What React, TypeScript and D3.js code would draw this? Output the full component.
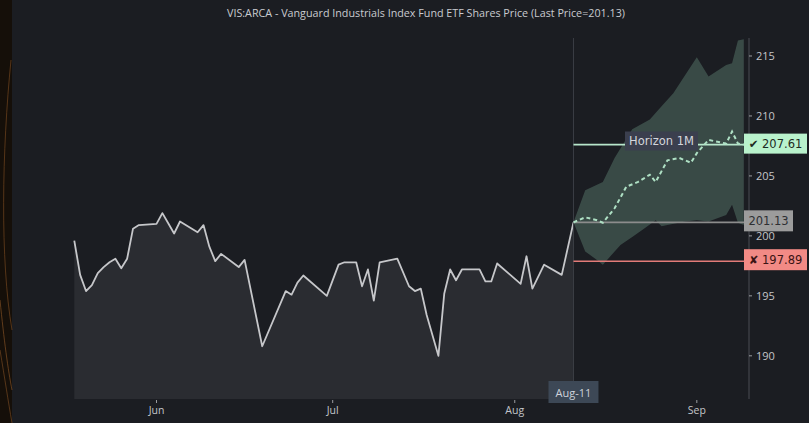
import React from "react";
import * as d3 from "d3";

const title = "VIS:ARCA - Vanguard Industrials Index Fund ETF Shares Price (Last Price=201.13)";

const priceDates = [
  "2023-05-18","2023-05-19","2023-05-20","2023-05-21","2023-05-22","2023-05-23","2023-05-24","2023-05-25",
  "2023-05-26","2023-05-27","2023-05-28","2023-05-29","2023-06-01","2023-06-02","2023-06-03","2023-06-04",
  "2023-06-05","2023-06-08","2023-06-09","2023-06-10","2023-06-11","2023-06-12","2023-06-15","2023-06-16",
  "2023-06-19","2023-06-23","2023-06-24","2023-06-25","2023-06-26","2023-06-30","2023-07-02","2023-07-03",
  "2023-07-05","2023-07-06","2023-07-07","2023-07-08","2023-07-09","2023-07-12","2023-07-14","2023-07-15",
  "2023-07-16","2023-07-17","2023-07-19","2023-07-20","2023-07-21","2023-07-22","2023-07-23","2023-07-26",
  "2023-07-27","2023-07-28","2023-07-29","2023-08-02","2023-08-03","2023-08-04","2023-08-06","2023-08-09",
  "2023-08-11",
];
const priceValues = [
  199.6, 196.75, 195.4, 195.9, 196.9, 197.4, 197.8, 198.1,
  197.3, 198.1, 200.6, 200.9, 201.0, 201.9, 201.05, 200.2,
  201.2, 200.3, 200.9, 199.1, 197.9, 198.5, 197.4, 198.0,
  190.8, 195.4, 195.1, 196.1, 196.7, 195.0, 197.6, 197.8,
  197.8, 195.8, 197.2, 194.6, 197.8, 198.1, 195.8, 195.4,
  195.6, 193.4, 190.0, 195.2, 197.2, 196.3, 197.2, 197.2,
  196.2, 196.2, 197.7, 196.0, 198.3, 195.6, 197.6, 196.75,
  201.13,
];

const medianDates = [
  "2023-08-11","2023-08-13","2023-08-15","2023-08-16","2023-08-18","2023-08-20","2023-08-22","2023-08-24",
  "2023-08-25","2023-08-27","2023-08-29","2023-08-31","2023-09-01","2023-09-03","2023-09-06","2023-09-07",
  "2023-09-08","2023-09-09",
];
const medianValues = [
  201.13, 201.55, 201.3, 201.1, 202.3, 204.1, 204.5, 205.1,
  204.5, 206.3, 206.5, 206.1, 206.9, 208.0, 207.7, 208.7,
  207.7, 207.6,
];

const upperDates = [
  "2023-08-11","2023-08-13","2023-08-16","2023-08-18","2023-08-21","2023-08-24","2023-08-26","2023-08-28",
  "2023-09-01","2023-09-03","2023-09-06","2023-09-07","2023-09-08","2023-09-09",
];
const upperValues = [
  201.13, 203.8, 204.5, 206.5, 208.9, 209.7, 210.8, 211.9,
  214.9, 213.3, 214.25, 214.4, 216.3, 216.4,
];

const lowerDates = [
  "2023-08-11","2023-08-13","2023-08-15","2023-08-16","2023-08-19","2023-08-21","2023-08-23","2023-08-25",
  "2023-08-26","2023-08-27","2023-08-30","2023-09-01","2023-09-03","2023-09-06","2023-09-07","2023-09-08",
  "2023-09-09",
];
const lowerValues = [
  201.13, 198.7, 198.0, 197.6, 199.25, 199.9, 200.6, 201.3,
  200.8, 200.9, 201.2, 201.3, 201.2, 201.75, 202.6, 201.1,
  200.9,
];

const lastPrice = 201.13;
const targetPrice = 207.61;
const stopPrice = 197.89;
const horizonLabel = "Horizon 1M";
const lastDateLabel = "Aug-11";
const lastDate = "2023-08-11";

const yTicks = [190, 195, 200, 205, 210, 215];
const xTickDates = ["2023-06-01", "2023-07-01", "2023-08-01", "2023-09-01"];
const xTickLabels = ["Jun", "Jul", "Aug", "Sep"];

const parse = d3.timeParse("%Y-%m-%d");

export default function App() {
  const W = 809, H = 423;
  const x = d3.scaleTime()
    .domain([parse("2023-06-01")!, parse("2023-09-01")!])
    .range([156.5, 156.5 + 92 * 5.873]);
  const y = d3.scaleLinear().domain([186.4, 216.5]).range([399, 38]);
  const axisX = 749;
  const bottom = 399;

  const price = priceDates.map((d, i) => ({ d: parse(d)!, v: priceValues[i] }));
  const median = medianDates.map((d, i) => ({ d: parse(d)!, v: medianValues[i] }));
  const upper = upperDates.map((d, i) => ({ d: parse(d)!, v: upperValues[i] }));
  const lower = lowerDates.map((d, i) => ({ d: parse(d)!, v: lowerValues[i] }));

  const area = d3.area<{ d: Date; v: number }>().x(p => x(p.d)).y0(bottom).y1(p => y(p.v));
  const line = d3.line<{ d: Date; v: number }>().x(p => x(p.d)).y(p => y(p.v));
  const bandPath = line([...upper, ...lower.slice().reverse()]) + "Z";

  const xLast = x(parse(lastDate)!);

  const labelFont = "'DejaVu Sans', sans-serif";
  const axisFont = "'Open Sans', 'DejaVu Sans', sans-serif";

  return (
    <div style={{ position: "fixed", left: 0, top: 0, width: W, height: H }}>
      <svg width={W} height={H} style={{ display: "block" }}>
        <rect x={0} y={0} width={W} height={H} fill="#1b1d22" />
        {/* left decorative strip */}
        <rect x={0} y={0} width={12} height={H} fill="#150f09" />
        <path d="M11,60 C2,150 0,260 12,330" stroke="#7a4a20" strokeWidth={0.8} fill="none" opacity={0.8} />
        <path d="M0,300 C4,340 8,370 12,390" stroke="#8a5526" strokeWidth={0.8} fill="none" opacity={0.8} />
        <path d="M0,350 C5,380 8,400 12,423" stroke="#8a5526" strokeWidth={0.8} fill="none" opacity={0.7} />

        <text x={426} y={17} textAnchor="middle" fill="#c9cbd0" fontSize={10}
          fontFamily={axisFont} textLength={398} lengthAdjust="spacingAndGlyphs">{title}</text>

        {/* price area and line */}
        <path d={area(price)!} fill="#2a2c31" />
        <path d={line(price)!} fill="none" stroke="#c6c7ca" strokeWidth={1.8} strokeLinejoin="round" />

        {/* last date vertical */}
        <line x1={xLast} x2={xLast} y1={38} y2={bottom} stroke="#3b3e44" strokeWidth={1} />

        {/* forecast band */}
        <path d={bandPath} fill="#6f9a88" fillOpacity={0.36} />

        {/* horizontal reference lines */}
        <line x1={xLast} x2={axisX} y1={y(lastPrice)} y2={y(lastPrice)} stroke="#8c8c8c" strokeWidth={1.6} />
        <line x1={xLast} x2={axisX} y1={y(stopPrice)} y2={y(stopPrice)} stroke="#e27b78" strokeWidth={1.6} />
        <line x1={xLast} x2={axisX} y1={y(targetPrice)} y2={y(targetPrice)} stroke="#b7e6cb" strokeWidth={1.6} />

        {/* median dashed */}
        <path d={line(median)!} fill="none" stroke="#aee0c4" strokeWidth={2} strokeDasharray="4,3" />

        {/* horizon label */}
        <rect x={625} y={131.5} width={73} height={19} fill="#3b3f4e" />
        <text x={661.5} y={141} textAnchor="middle" dominantBaseline="central" fill="#d4d6dc"
          fontSize={11.5} fontFamily={labelFont}>{horizonLabel}</text>

        {/* right axis */}
        <line x1={axisX} x2={axisX} y1={38} y2={bottom} stroke="#4a4d53" strokeWidth={1} />
        {yTicks.map(t => (
          <g key={t}>
            <line x1={axisX} x2={axisX + 3} y1={y(t)} y2={y(t)} stroke="#9a9ca0" />
            <text x={axisX + 7} y={y(t)} dominantBaseline="central" fill="#c3c5c9" fontSize={11}
              fontFamily={axisFont}>{t}</text>
          </g>
        ))}

        {/* price labels on axis */}
        <rect x={744} y={y(targetPrice) - 11} width={63} height={20} fill="#b9f2cc" />
        <text x={775.5} y={y(targetPrice) - 1} textAnchor="middle" dominantBaseline="central" fill="#1d2a22"
          fontSize={11.5} fontFamily={labelFont}>{"\u2714 " + targetPrice.toFixed(2)}</text>

        <rect x={744} y={y(lastPrice) - 12} width={49} height={21} fill="#9c9c9c" />
        <text x={768.5} y={y(lastPrice) - 1.5} textAnchor="middle" dominantBaseline="central" fill="#2e2f33"
          fontSize={11.5} fontFamily={labelFont}>{lastPrice.toFixed(2)}</text>

        <rect x={744} y={y(stopPrice) - 12} width={63} height={21} fill="#f28a85" />
        <text x={775.5} y={y(stopPrice) - 1.5} textAnchor="middle" dominantBaseline="central" fill="#3a1414"
          fontSize={11.5} fontFamily={labelFont}>{"\u2718 " + stopPrice.toFixed(2)}</text>

        {/* bottom axis */}
        {xTickDates.map((d, i) => (
          <g key={d}>
            <line x1={x(parse(d)!)} x2={x(parse(d)!)} y1={bottom + 1} y2={bottom + 4} stroke="#9a9ca0" />
            <text x={x(parse(d)!)} y={414} textAnchor="middle" fill="#c3c5c9" fontSize={10.5}
              fontFamily={axisFont}>{xTickLabels[i]}</text>
          </g>
        ))}

        <rect x={xLast - 25} y={381} width={50} height={22} fill="#3d4856" />
        <text x={xLast} y={392} textAnchor="middle" dominantBaseline="central" fill="#cfd3da"
          fontSize={11} fontFamily={axisFont}>{lastDateLabel}</text>
      </svg>
    </div>
  );
}
